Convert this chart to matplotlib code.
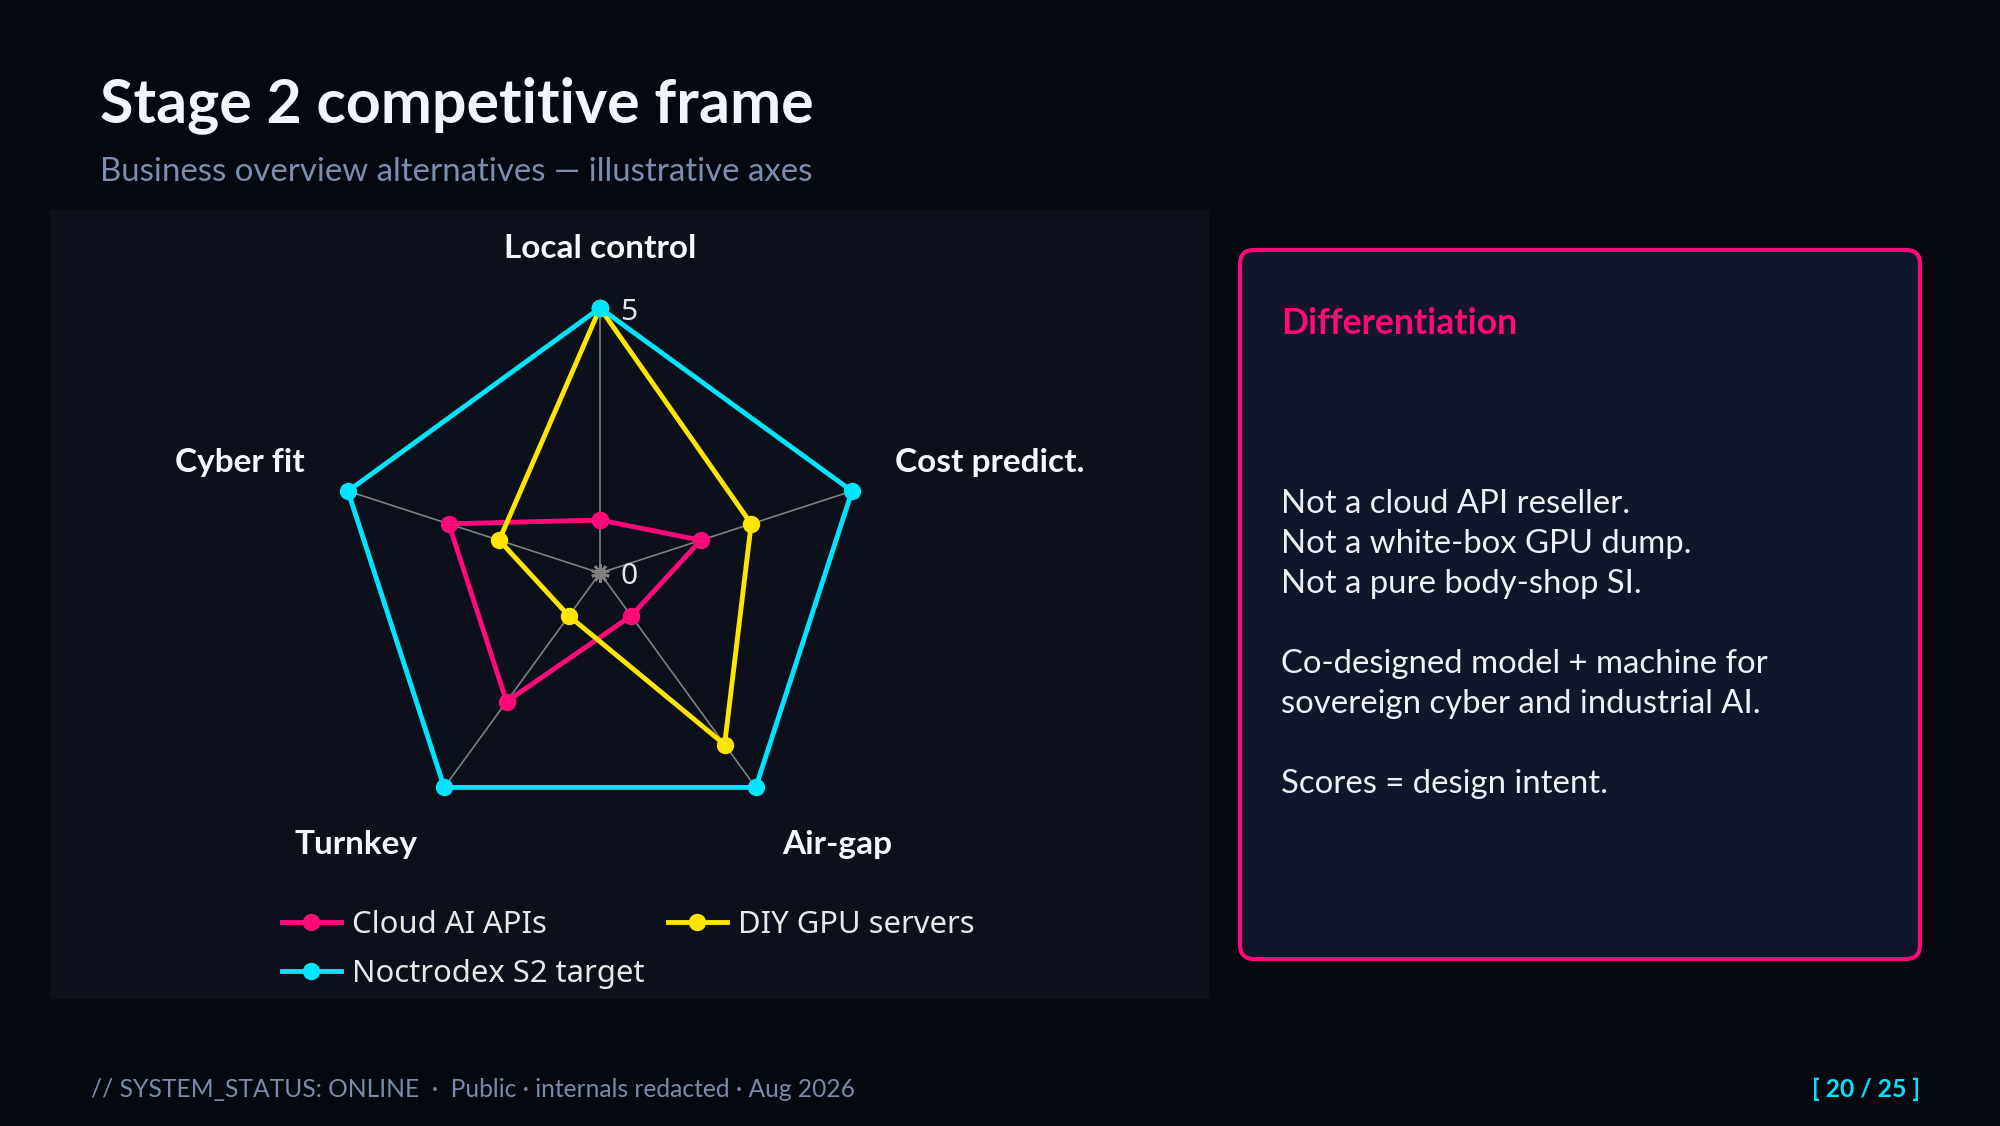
import numpy as np
import matplotlib.pyplot as plt
from matplotlib.patches import Rectangle, FancyBboxPatch

# radar data
categories = ['Local control', 'Cost predict.', 'Air-gap', 'Turnkey', 'Cyber fit']
cloud_ai = [1, 2, 1, 3, 3]
diy_gpu = [5, 3, 4, 1, 2]
noctrodex = [5, 5, 5, 5, 5]
series_names = ['Cloud AI APIs', 'DIY GPU servers', 'Noctrodex S2 target']
series_colors = ['#ff0a78', '#ffe500', '#00e5ff']
r_ticks = [0, 5]

body_lines = ['Not a cloud API reseller.', 'Not a white-box GPU dump.', 'Not a pure body-shop SI.', '',
              'Co-designed model + machine for', 'sovereign cyber and industrial AI.', '',
              'Scores = design intent.']

W, H = 2000, 1126
fig = plt.figure(figsize=(W / 100, H / 100), dpi=100)
fig.patch.set_facecolor('#05080f')
tr = fig.dpi_scale_trans


def px(x, y):
    # pixel coords from top-left -> inches from bottom-left
    return x / 100, (H - y) / 100


# panels
fig.add_artist(Rectangle(px(50, 999), 11.59, 7.89, transform=tr,
                         facecolor='#0b101b', edgecolor='none', zorder=0))
fig.add_artist(FancyBboxPatch(px(1240, 959), 6.80, 7.09, transform=tr,
                              boxstyle='round,pad=0,rounding_size=0.14',
                              facecolor='#10172a', edgecolor='#ff0a78', lw=3, zorder=0))

# title block
fig.text(*px(100, 122), 'Stage 2 competitive frame', transform=tr, family='Lato',
         weight='bold', size=43.8, color='#f2f5ff', va='baseline')
fig.text(*px(100, 181), 'Business overview alternatives \u2014 illustrative axes', transform=tr,
         family='Lato', size=23.8, color='#7c8db0', va='baseline')

# radar
cx, cy, rad = 600, 573, 265
ax = fig.add_axes([(cx - rad) / W, (H - cy - rad) / H, 2 * rad / W, 2 * rad / H], projection='polar')
ax.set_facecolor('none')
ax.set_theta_offset(np.pi / 2)
ax.set_theta_direction(-1)
ax.set_ylim(0, 5)
ax.spines['polar'].set_visible(False)

angles = np.linspace(0, 2 * np.pi, len(categories), endpoint=False)
ax.set_xticks(angles)
ax.set_xticklabels([])
ax.set_yticks([])
ax.xaxis.grid(True, color='#808080', lw=1.2)
ax.tick_params(length=0)

theta = np.append(angles, angles[0])
for i, (vals, name, col) in enumerate(zip([cloud_ai, diy_gpu, noctrodex], series_names, series_colors)):
    v = np.append(vals, vals[0])
    ax.plot(theta, v, color=col, lw=3.5, marker='o', ms=11.5, label=name,
            clip_on=False, zorder=3 + i)
ax.plot([0], [0], marker=(10, 2, 0), ms=13, mew=2, color='#808080', clip_on=False, zorder=2)

for t in r_ticks:
    fig.text(*px(620, cy - rad * t / 5 + 4), str(t), transform=tr, family='Noto Sans',
             size=21.5, color='#e6e6e6', va='center', ha='left')

R = 310
for a, lab in zip(angles, categories):
    s, c = np.sin(a), np.cos(a)
    ha = 'center' if abs(s) < 0.1 else ('left' if s > 0 else 'right')
    va = 'bottom' if c > 0.1 else 'top'
    dy = 0 if c > 0.1 else 6
    fig.text(*px(cx + R * s, cy - R * c + dy), lab, transform=tr, family='Lato', weight='bold',
             size=24, color='#f5f7fc', ha=ha, va=va)

h, l = ax.get_legend_handles_labels()
order = [0, 2, 1]
fig.legend([h[i] for i in order], [l[i] for i in order], loc='upper left',
           bbox_to_anchor=px(282, 910), bbox_transform=tr, ncol=2, frameon=False,
           prop={'family': 'Noto Sans', 'size': 22.3}, labelcolor='#e8e8e8',
           handlelength=1.9, handletextpad=0.37, columnspacing=0.75,
           labelspacing=0.6, borderpad=0, borderaxespad=0)

# differentiation card
fig.text(*px(1281, 334), 'Differentiation', transform=tr, family='Lato', weight='bold',
         size=25.6, color='#ff0a78', va='baseline')
y0 = 513
for k, line in enumerate(body_lines):
    if line:
        fig.text(*px(1281, y0 + 40 * k), line, transform=tr, family='Lato', size=23.7,
                 color='#eef1f8', va='baseline')

# footer
fig.text(*px(91, 1097), '// SYSTEM_STATUS: ONLINE  \u00b7  Public \u00b7 internals redacted \u00b7 Aug 2026',
         transform=tr, family='Lato', size=17.7, color='#7c8aa8', va='baseline')
fig.text(*px(1920, 1097), '[ 20 / 25 ]', transform=tr, family='Lato', weight='bold',
         size=17.7, color='#00e5ff', va='baseline', ha='right')

fig.savefig('out.png', dpi=100, facecolor=fig.get_facecolor())
